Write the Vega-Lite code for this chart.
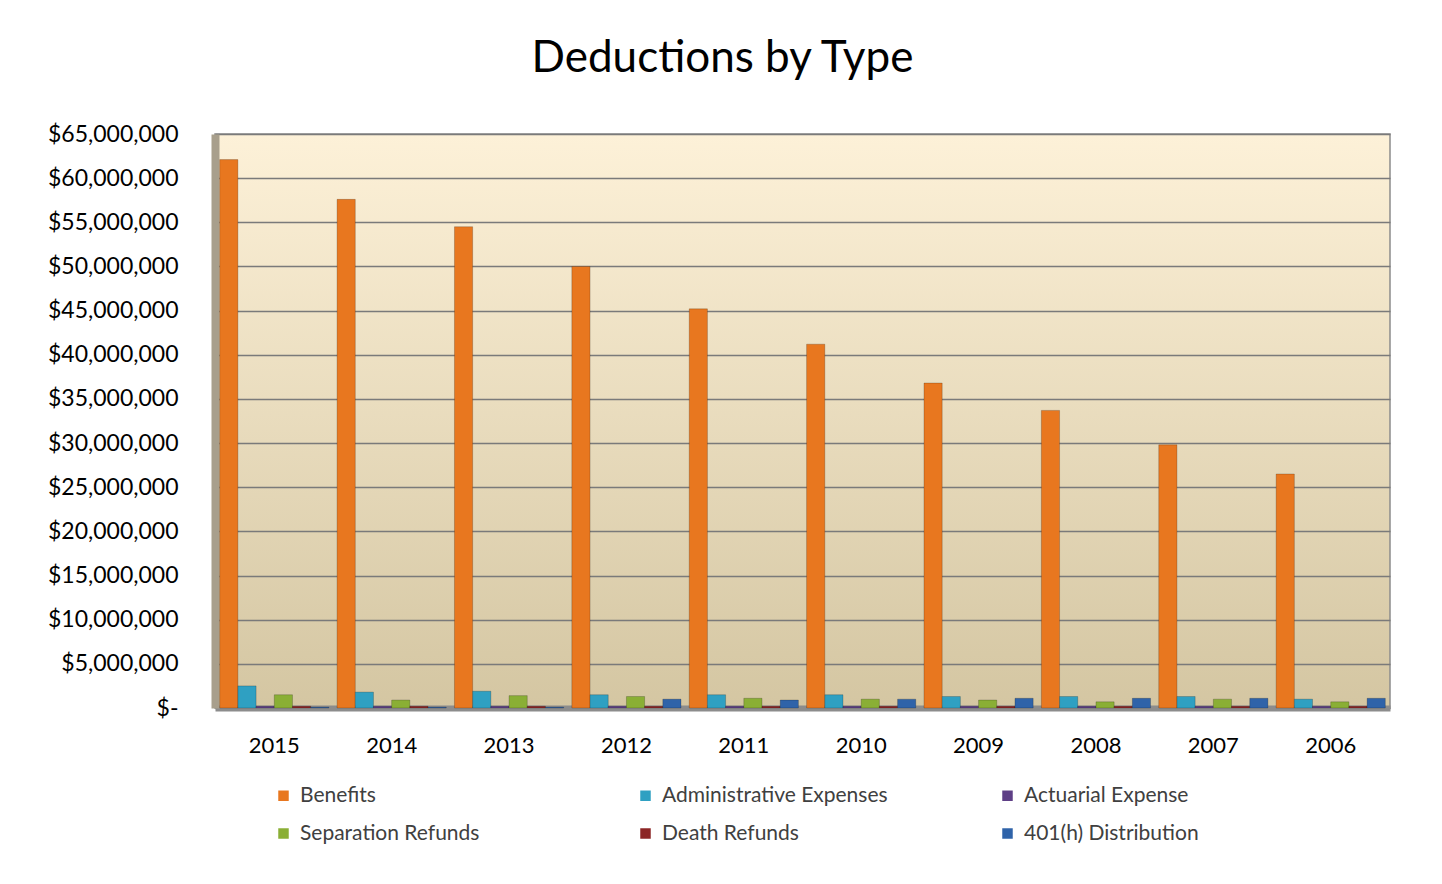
{
  "$schema": "https://vega.github.io/schema/vega-lite/v6.json",
  "autosize": {"type": "none"},
  "padding": {"left": 215, "top": 134, "right": 52, "bottom": 176},
  "width": 1175,
  "height": 574,
  "background": "white",
  "title": {"text": "Deductions by Type", "fontSize": 44, "font": "Lato", "fontWeight": "normal", "color": "#000000", "anchor": "middle", "dx": -80, "offset": 42},
  "data": {"values": [
    {"year": "2015", "type": "Benefits", "value": 62100000},
    {"year": "2015", "type": "Administrative Expenses", "value": 2500000},
    {"year": "2015", "type": "Actuarial Expense", "value": 200000},
    {"year": "2015", "type": "Separation Refunds", "value": 1500000},
    {"year": "2015", "type": "Death Refunds", "value": 200000},
    {"year": "2015", "type": "401(h) Distribution", "value": 100000},
    {"year": "2014", "type": "Benefits", "value": 57600000},
    {"year": "2014", "type": "Administrative Expenses", "value": 1800000},
    {"year": "2014", "type": "Actuarial Expense", "value": 200000},
    {"year": "2014", "type": "Separation Refunds", "value": 900000},
    {"year": "2014", "type": "Death Refunds", "value": 200000},
    {"year": "2014", "type": "401(h) Distribution", "value": 100000},
    {"year": "2013", "type": "Benefits", "value": 54500000},
    {"year": "2013", "type": "Administrative Expenses", "value": 1900000},
    {"year": "2013", "type": "Actuarial Expense", "value": 200000},
    {"year": "2013", "type": "Separation Refunds", "value": 1400000},
    {"year": "2013", "type": "Death Refunds", "value": 200000},
    {"year": "2013", "type": "401(h) Distribution", "value": 100000},
    {"year": "2012", "type": "Benefits", "value": 50000000},
    {"year": "2012", "type": "Administrative Expenses", "value": 1500000},
    {"year": "2012", "type": "Actuarial Expense", "value": 200000},
    {"year": "2012", "type": "Separation Refunds", "value": 1300000},
    {"year": "2012", "type": "Death Refunds", "value": 200000},
    {"year": "2012", "type": "401(h) Distribution", "value": 1000000},
    {"year": "2011", "type": "Benefits", "value": 45200000},
    {"year": "2011", "type": "Administrative Expenses", "value": 1500000},
    {"year": "2011", "type": "Actuarial Expense", "value": 200000},
    {"year": "2011", "type": "Separation Refunds", "value": 1100000},
    {"year": "2011", "type": "Death Refunds", "value": 200000},
    {"year": "2011", "type": "401(h) Distribution", "value": 900000},
    {"year": "2010", "type": "Benefits", "value": 41200000},
    {"year": "2010", "type": "Administrative Expenses", "value": 1500000},
    {"year": "2010", "type": "Actuarial Expense", "value": 200000},
    {"year": "2010", "type": "Separation Refunds", "value": 1000000},
    {"year": "2010", "type": "Death Refunds", "value": 200000},
    {"year": "2010", "type": "401(h) Distribution", "value": 1000000},
    {"year": "2009", "type": "Benefits", "value": 36800000},
    {"year": "2009", "type": "Administrative Expenses", "value": 1300000},
    {"year": "2009", "type": "Actuarial Expense", "value": 200000},
    {"year": "2009", "type": "Separation Refunds", "value": 900000},
    {"year": "2009", "type": "Death Refunds", "value": 200000},
    {"year": "2009", "type": "401(h) Distribution", "value": 1100000},
    {"year": "2008", "type": "Benefits", "value": 33700000},
    {"year": "2008", "type": "Administrative Expenses", "value": 1300000},
    {"year": "2008", "type": "Actuarial Expense", "value": 200000},
    {"year": "2008", "type": "Separation Refunds", "value": 700000},
    {"year": "2008", "type": "Death Refunds", "value": 200000},
    {"year": "2008", "type": "401(h) Distribution", "value": 1100000},
    {"year": "2007", "type": "Benefits", "value": 29800000},
    {"year": "2007", "type": "Administrative Expenses", "value": 1300000},
    {"year": "2007", "type": "Actuarial Expense", "value": 200000},
    {"year": "2007", "type": "Separation Refunds", "value": 1000000},
    {"year": "2007", "type": "Death Refunds", "value": 200000},
    {"year": "2007", "type": "401(h) Distribution", "value": 1100000},
    {"year": "2006", "type": "Benefits", "value": 26500000},
    {"year": "2006", "type": "Administrative Expenses", "value": 1000000},
    {"year": "2006", "type": "Actuarial Expense", "value": 200000},
    {"year": "2006", "type": "Separation Refunds", "value": 700000},
    {"year": "2006", "type": "Death Refunds", "value": 200000},
    {"year": "2006", "type": "401(h) Distribution", "value": 1100000}
  ]},
  "mark": {"type": "bar", "stroke": "#00000033", "strokeWidth": 1},
  "encoding": {
    "x": {
      "field": "year", "type": "ordinal", "sort": "descending",
      "scale": {"paddingInner": 0.07, "paddingOuter": 0.04},
      "axis": {"title": null, "labelAngle": 0, "labelFontSize": 22, "labelFont": "Lato", "labelColor": "#000000", "labelPadding": 27, "ticks": false, "domain": true, "domainColor": "#8c8c8c", "domainWidth": 6}
    },
    "xOffset": {
      "field": "type", "type": "nominal",
      "sort": ["Benefits", "Administrative Expenses", "Actuarial Expense", "Separation Refunds", "Death Refunds", "401(h) Distribution"]
    },
    "y": {
      "field": "value", "type": "quantitative",
      "scale": {"domain": [0, 65000000], "nice": false},
      "axis": {"title": null, "values": [0, 5000000, 10000000, 15000000, 20000000, 25000000, 30000000, 35000000, 40000000, 45000000, 50000000, 55000000, 60000000, 65000000],
        "labelExpr": "datum.value == 0 ? '$-' : '$' + format(datum.value, ',')",
        "labelFontSize": 23, "labelFont": "Lato", "labelColor": "#000000", "labelPadding": 37, "ticks": false,
        "grid": true, "gridColor": "#7a7a7a", "gridWidth": 1.5, "domain": true, "domainColor": "#a89f8c", "domainWidth": 8}
    },
    "color": {
      "field": "type", "type": "nominal",
      "sort": ["Benefits", "Administrative Expenses", "Actuarial Expense", "Separation Refunds", "Death Refunds", "401(h) Distribution"],
      "scale": {"domain": ["Benefits", "Administrative Expenses", "Actuarial Expense", "Separation Refunds", "Death Refunds", "401(h) Distribution"],
        "range": ["#E8771F", "#2FA0C2", "#5E3F86", "#8AAF35", "#8C2525", "#2F63A9"]},
      "legend": {
        "title": null, "orient": "none", "legendX": 58, "legendY": 651,
        "direction": "horizontal", "columns": 3, "gridAlign": "all", "columnPadding": 109, "rowPadding": 16,
        "symbolType": "square", "symbolSize": 110, "symbolStrokeWidth": 0,
        "labelFontSize": 21, "labelFont": "Lato", "labelColor": "#404040", "labelLimit": 400, "labelOffset": 6
      }
    }
  },
  "config": {
    "view": {
      "stroke": "#8c8c8c", "strokeWidth": 1.5,
      "fill": {"gradient": "linear", "x1": 0, "y1": 0, "x2": 0, "y2": 1,
        "stops": [{"offset": 0, "color": "#fdf1d8"}, {"offset": 1, "color": "#d4c6a2"}]}
    }
  }
}
